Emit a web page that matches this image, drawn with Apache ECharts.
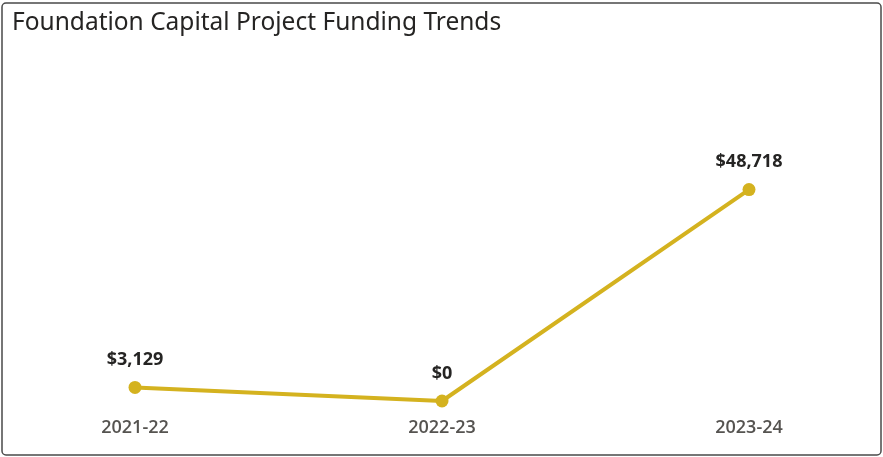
<!DOCTYPE html>
<html>
<head>
<meta charset="utf-8">
<style>
  html, body { margin: 0; padding: 0; background: #fff; }
  #chart { width: 883px; height: 457px; }
</style>
<script src="https://cdn.jsdelivr.net/npm/echarts@6/dist/echarts.min.js"></script>
</head>
<body>
<div id="chart"></div>
<script>
// fiscal years and funding totals
var categories = ['2021-22', '2022-23', '2023-24'];
var funding = [3129, 0, 48718];

function money(v) {
    return '$' + v.toLocaleString('en-US');
}

var chart = echarts.init(document.getElementById('chart'));
chart.setOption({
    animation: false,
    title: {
        text: 'Foundation Capital Project Funding Trends',
        left: 7,
        top: 6,
        textStyle: {
            fontFamily: 'Noto Sans',
            fontWeight: 'normal',
            fontSize: 24.5,
            color: '#252423'
        }
    },
    graphic: [{
        type: 'rect',
        shape: { x: 2, y: 3, width: 879, height: 452, r: 4 },
        style: { fill: 'none', stroke: '#4a4a4a', lineWidth: 1.5 },
        silent: true
    }],
    grid: { left: 135, right: 134, top: 184, bottom: 56 },
    xAxis: {
        type: 'category',
        data: categories,
        boundaryGap: false,
        axisLine: { show: false },
        axisTick: { show: false },
        axisLabel: {
            margin: 18,
            fontFamily: 'Open Sans',
            fontSize: 18,
            fontWeight: 600,
            color: '#555350'
        }
    },
    yAxis: {
        type: 'value',
        show: false,
        min: 0,
        max: 50000,
        splitLine: { show: false }
    },
    series: [{
        type: 'line',
        data: funding,
        symbol: 'circle',
        symbolSize: 13,
        lineStyle: { width: 4, color: '#D4B21F' },
        itemStyle: { color: '#D4B21F' },
        label: {
            show: true,
            position: 'top',
            distance: 12,
            formatter: function (p) { return money(p.value); },
            fontFamily: 'Open Sans',
            fontWeight: 'bold',
            fontSize: 18,
            color: '#252423'
        }
    }]
});
</script>
</body>
</html>
